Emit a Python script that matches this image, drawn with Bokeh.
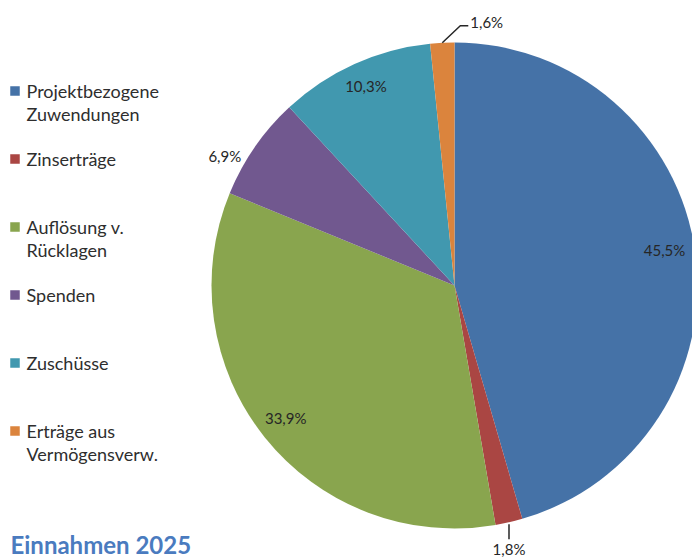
import numpy as np
from bokeh.plotting import figure
from bokeh.models import Range1d
from bokeh.embed import file_html
from bokeh.resources import INLINE
from bokeh.core.properties import value

# ---- data ----
categories = ["Projektbezogene\nZuwendungen", "Zinserträge", "Auflösung v.\nRücklagen",
              "Spenden", "Zuschüsse", "Erträge aus\nVermögensverw."]
shares = [45.5, 1.8, 33.9, 6.9, 10.3, 1.6]
share_labels = ["45,5%", "1,8%", "33,9%", "6,9%", "10,3%", "1,6%"]
colors = ["#4572A7", "#AA4643", "#89A54E", "#71588F", "#4198AF", "#DB843D"]
title_text = "Einnahmen 2025"

# ---- layout (x = image px, data y = 559 - image y) ----
W, H = 692, 559
def Y(sy):
    return 559 - sy

p = figure(width=W, height=H, output_backend="svg", toolbar_location=None,
           x_range=Range1d(0, W), y_range=Range1d(559 - H, 559),
           min_border=0, outline_line_color=None)
p.axis.visible = False
p.grid.visible = False
p.background_fill_color = "white"
p.border_fill_color = "white"

cx, cy, r = 454, Y(285), 243
frac = np.array(shares) / np.sum(shares)
cum = np.concatenate([[0.0], np.cumsum(frac)])
theta = lambda f: np.pi / 2 - 2 * np.pi * f
starts = theta(cum[:-1])
ends = theta(cum[1:])
mids = theta((cum[:-1] + cum[1:]) / 2)

p.wedge(x=cx, y=cy, radius=r, start_angle=starts, end_angle=ends,
        direction="clock", fill_color=colors, line_color=None)

# ---- data labels ----
label_font = value("Lato")
lsize = "15px"
radial = [0.875, None, 0.89, 1.08, 0.886, None]
ang_off = np.radians([0.8, 0, 0, 5.8, 0, 0])
lx, ly, lt = [], [], []
for i, f in enumerate(radial):
    if f is None:
        continue
    a = mids[i] + ang_off[i]
    lx.append(cx + f * r * np.cos(a))
    ly.append(cy + f * r * np.sin(a) + 3)
    lt.append(share_labels[i])
p.text(x=lx, y=ly, text=lt, text_align="center", text_baseline="middle",
       text_font=label_font, text_font_size=lsize, text_color="#262626")

# leader for small slice at top (index 5)
i = 5
ex, ey = cx + r * np.cos(mids[i]), cy + r * np.sin(mids[i])
p.line(x=[ex, ex + 18, ex + 26], y=[ey, ey + 17, ey + 17], line_color="#262626", line_width=1.5)
p.text(x=[ex + 28], y=[ey + 21], text=[share_labels[i]], text_align="left",
       text_baseline="middle", text_font=label_font, text_font_size=lsize, text_color="#262626")

# leader for small slice at bottom (index 1)
i = 1
ex, ey = cx + r * np.cos(mids[i]), cy + r * np.sin(mids[i])
p.line(x=[ex, ex], y=[ey - 2, ey - 17], line_color="#262626", line_width=1.5)
p.text(x=[ex], y=[ey - 27], text=[share_labels[i]], text_align="center",
       text_baseline="middle", text_font=label_font, text_font_size=lsize, text_color="#262626")

# ---- legend (drawn manually) ----
n = len(categories)
base0, step = 98, 68
sq_y = [Y(base0 + step * k - 7.5) for k in range(n)]
p.scatter(x=[14.5] * n, y=sq_y, marker="square", size=9.5, fill_color=colors, line_color=None)

tx, ty, tt = [], [], []
for k, cat in enumerate(categories):
    for j, line in enumerate(cat.split("\n")):
        tx.append(26)
        ty.append(Y(base0 + step * k + 23 * j - 8))
        tt.append(line)
p.text(x=tx, y=ty, text=tt, text_align="left", text_baseline="alphabetic",
       text_font=value("Lato"), text_font_size="18px", text_color="#2E2E2E")

# ---- title ----
p.text(x=[10], y=[Y(544)], text=[title_text], text_align="left", text_baseline="alphabetic",
       text_font=value("Lato"), text_font_style="bold", text_font_size="24px",
       text_color="#4A7BBF")

open("out.html", "w").write(file_html(p, INLINE))
